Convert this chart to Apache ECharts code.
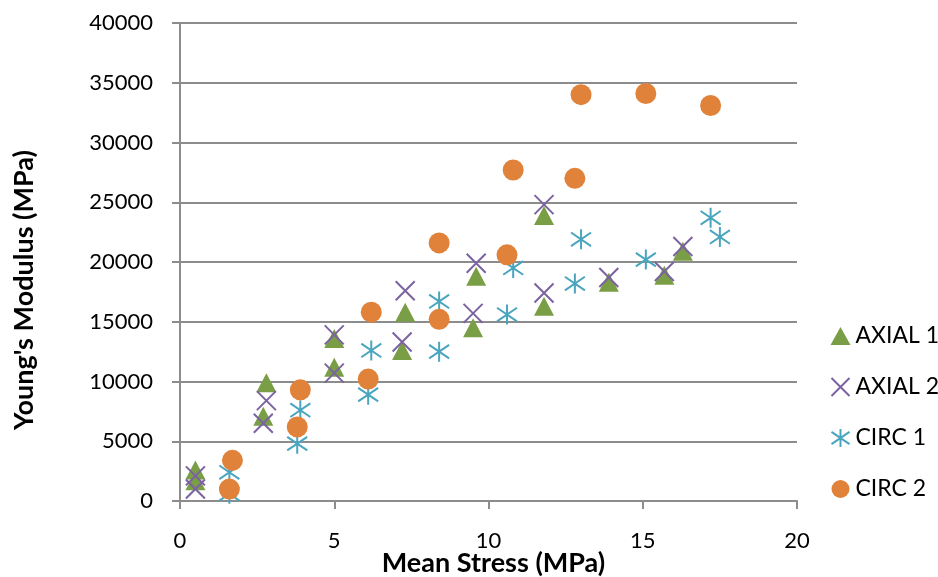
<!DOCTYPE html>
<html>
<head>
<meta charset="utf-8">
<script src="https://cdn.jsdelivr.net/npm/echarts@6/dist/echarts.min.js"></script>
<style>
  html, body { margin: 0; padding: 0; background: #fff; }
</style>
</head>
<body>
<div id="chart" style="width: 938px; height: 577px;"></div>
<script>
// mean stress (MPa) / Young's modulus (MPa)
const axial1X = [0.5, 0.5, 2.8, 2.7, 5.0, 5.0, 7.3, 7.2, 9.6, 9.5, 11.8, 11.8, 13.9, 15.7, 16.3]
const axial1Y = [2600, 1700, 9900, 7100, 13600, 11200, 15800, 12600, 18800, 14500, 23900, 16300, 18300, 18900, 20900]

const axial2X = [0.5, 0.5, 2.8, 2.7, 5.0, 5.0, 7.3, 7.2, 9.6, 9.5, 11.8, 11.8, 13.9, 15.7, 16.3]
const axial2Y = [2100, 1000, 8400, 6500, 13900, 10700, 17600, 13300, 19900, 15700, 24800, 17400, 18700, 19200, 21300]

const circ1X = [1.6, 1.6, 3.9, 3.8, 6.2, 6.1, 8.4, 8.4, 10.8, 10.6, 13.0, 12.8, 15.1, 17.2, 17.5]
const circ1Y = [2400, 600, 7600, 4800, 12600, 8900, 16700, 12500, 19500, 15600, 21900, 18200, 20200, 23700, 22100]

const circ2X = [1.7, 1.6, 3.9, 3.8, 6.2, 6.1, 8.4, 8.4, 10.8, 10.6, 13.0, 12.8, 15.1, 17.2]
const circ2Y = [3400, 1000, 9300, 6200, 15800, 10200, 21600, 15200, 27700, 20600, 34000, 27000, 34100, 33100]

const seriesNames = ['AXIAL 1', 'AXIAL 2', 'CIRC 1', 'CIRC 2']

const pair = (xs, ys) => xs.map((x, i) => [x, ys[i]])

const gridColor = '#8c8c8c'
const font = 'Lato, "Open Sans", sans-serif'

const crossPath = 'path://M0,0L10,10M0,10L10,0'
const starPath = 'path://M0,1.6L10,8.4M0,8.4L10,1.6M5,0L5,10'

const option = {
  animation: false,
  textStyle: { fontFamily: font },
  grid: { left: 180, right: 141, top: 23, bottom: 76, outerBoundsMode: 'none', containLabel: false },
  legend: {
    orient: 'vertical',
    left: 824,
    top: 319,
    itemGap: 27,
    itemWidth: 20,
    itemHeight: 18,
    textStyle: { fontSize: 23, lineHeight: 24, color: '#000', fontFamily: font },
    data: seriesNames
  },
  xAxis: {
    type: 'value',
    min: 0,
    max: 20,
    interval: 5,
    name: 'Mean Stress (MPa)',
    nameLocation: 'middle',
    nameGap: 49,
    nameMoveOverlap: false,
    nameTextStyle: { fontSize: 27, fontWeight: 'bold', color: '#000', padding: [0, 0, 0, 10] },
    axisLine: { show: true, lineStyle: { color: gridColor, width: 2 } },
    axisTick: { show: true, inside: false, length: 8, lineStyle: { color: gridColor, width: 2 } },
    axisLabel: { fontSize: 22, color: '#000', margin: 29 },
    splitLine: { show: false }
  },
  yAxis: {
    type: 'value',
    min: 0,
    max: 40000,
    interval: 5000,
    name: "Young's Modulus (MPa)",
    nameLocation: 'middle',
    nameGap: 142,
    nameMoveOverlap: false,
    nameTextStyle: { fontSize: 27, fontWeight: 'bold', color: '#000', padding: [0, 56, 0, 0] },
    axisLine: { show: true, lineStyle: { color: gridColor, width: 2 } },
    axisTick: { show: true, inside: false, length: 8, lineStyle: { color: gridColor, width: 2 } },
    axisLabel: { fontSize: 22, color: '#000', margin: 27, formatter: v => String(v) },
    splitLine: { show: true, lineStyle: { color: gridColor, width: 2 } }
  },
  series: [
    {
      name: 'AXIAL 1',
      type: 'scatter',
      symbol: 'triangle',
      symbolSize: [20, 19],
      itemStyle: { color: '#7a9e45', opacity: 1 },
      data: pair(axial1X, axial1Y)
    },
    {
      name: 'AXIAL 2',
      type: 'scatter',
      symbol: crossPath,
      symbolSize: 19,
      itemStyle: { color: 'none', borderColor: '#7b62a0', borderWidth: 2, opacity: 1 },
      data: pair(axial2X, axial2Y)
    },
    {
      name: 'CIRC 1',
      type: 'scatter',
      symbol: starPath,
      symbolSize: 20,
      itemStyle: { color: 'none', borderColor: '#4aa5bf', borderWidth: 2, opacity: 1 },
      data: pair(circ1X, circ1Y)
    },
    {
      name: 'CIRC 2',
      type: 'scatter',
      symbol: 'circle',
      symbolSize: 21,
      itemStyle: { color: '#e0823a', opacity: 1 },
      data: pair(circ2X, circ2Y)
    }
  ]
}

const chart = echarts.init(document.getElementById('chart'))
chart.setOption(option)
</script>
</body>
</html>
